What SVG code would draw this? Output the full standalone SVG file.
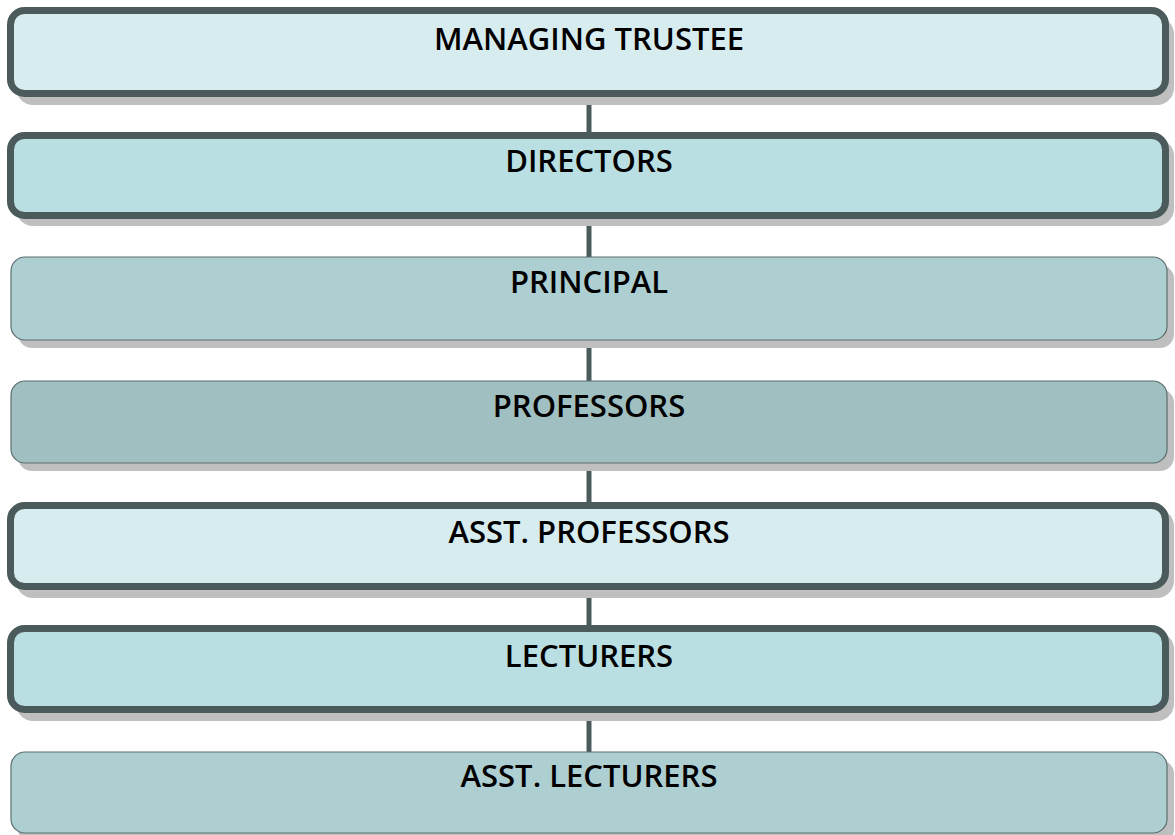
<svg xmlns="http://www.w3.org/2000/svg" width="1175" height="835" viewBox="0 0 1175 835">
  <style>
    .shadow { fill: #bfbfbf; }
    .thick { stroke: #4b5b5c; stroke-width: 7; }
    .thin { stroke: #5b6e6f; stroke-width: 1.2; }
    .c1 { fill: #d7ecef; }
    .c2 { fill: #badfe2; }
    .c3 { fill: #adcfd1; }
    .c4 { fill: #a0bfc1; }
    .label { font-family: "Open Sans", "Liberation Sans", sans-serif; font-size: 31px; font-weight: 600; fill: #000; text-anchor: middle; }
    .link { stroke: #4b5b5c; stroke-width: 5; fill: none; }
  </style>

  <!-- vertical links between the levels -->
  <g id="connectors">
    <line class="link" x1="589" y1="97" x2="589" y2="132"/>
    <line class="link" x1="589" y1="219" x2="589" y2="257"/>
    <line class="link" x1="589" y1="340" x2="589" y2="381"/>
    <line class="link" x1="589" y1="463" x2="589" y2="502"/>
    <line class="link" x1="589" y1="590" x2="589" y2="625"/>
    <line class="link" x1="589" y1="713" x2="589" y2="752"/>
  </g>

  <g id="managing-trustee">
    <rect class="shadow" x="16" y="17" width="1158" height="88" rx="17"/>
    <rect class="c1 thick" x="10.5" y="10.5" width="1155" height="83" rx="14"/>
    <text class="label" x="589" y="50">MANAGING TRUSTEE</text>
  </g>

  <g id="directors">
    <rect class="shadow" x="16" y="139" width="1158" height="87" rx="17"/>
    <rect class="c2 thick" x="10.5" y="135.5" width="1155" height="80" rx="14"/>
    <text class="label" x="589" y="172">DIRECTORS</text>
  </g>

  <g id="principal">
    <rect class="shadow" x="18" y="265" width="1156" height="83" rx="14"/>
    <rect class="c3 thin" x="11" y="257" width="1156" height="83" rx="14"/>
    <text class="label" x="589" y="293">PRINCIPAL</text>
  </g>

  <g id="professors">
    <rect class="shadow" x="18" y="389" width="1156" height="82" rx="14"/>
    <rect class="c4 thin" x="11" y="381" width="1156" height="82" rx="14"/>
    <text class="label" x="589" y="417">PROFESSORS</text>
  </g>

  <g id="asst-professors">
    <rect class="shadow" x="16" y="509" width="1158" height="89" rx="17"/>
    <rect class="c1 thick" x="10.5" y="505.5" width="1155" height="81" rx="14"/>
    <text class="label" x="589" y="543">ASST. PROFESSORS</text>
  </g>

  <g id="lecturers">
    <rect class="shadow" x="16" y="632" width="1158" height="89" rx="17"/>
    <rect class="c2 thick" x="10.5" y="628.5" width="1155" height="81" rx="14"/>
    <text class="label" x="589" y="667">LECTURERS</text>
  </g>

  <g id="asst-lecturers">
    <rect class="shadow" x="18" y="760" width="1156" height="83" rx="14"/>
    <rect class="c3 thin" x="11" y="752" width="1156" height="81" rx="14"/>
    <text class="label" x="589" y="787">ASST. LECTURERS</text>
  </g>
</svg>
